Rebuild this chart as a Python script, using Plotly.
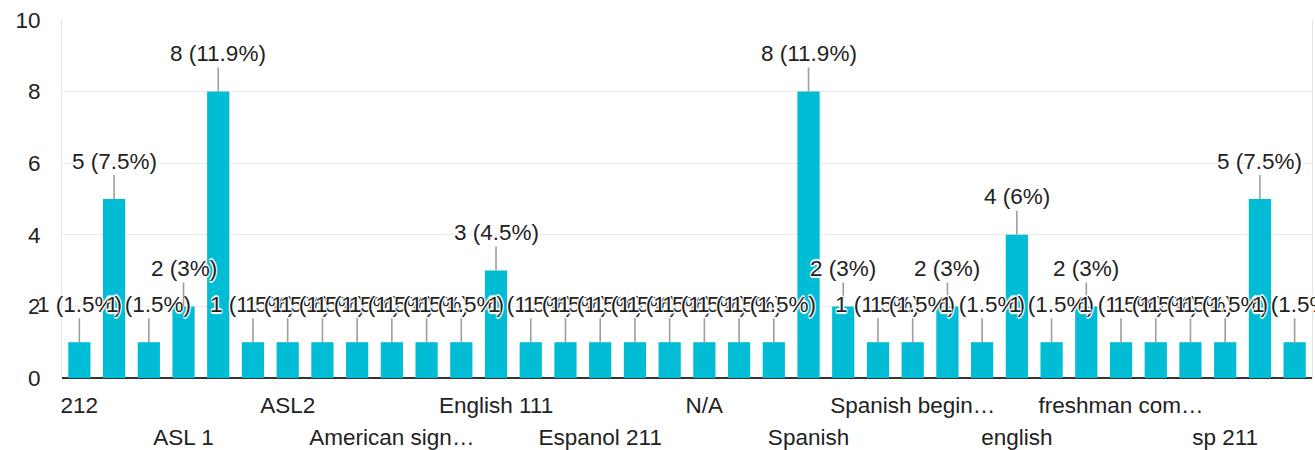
import plotly.graph_objects as go

categories = [
    "212", "ASL", "ASL 101", "ASL 1", "ASL 2", "ASL 3", "ASL2",
    "American Sign Language", "American sign lang", "American sign language",
    "Chinese", "English", "English 111", "English 112", "English 212",
    "Espanol 211", "French", "German", "N/A", "None", "SPAN 211", "Spanish",
    "Spanish 1", "Spanish 211", "Spanish beginner level", "Spanish intermediate",
    "Spanish, ASL", "english", "english 111", "english composition",
    "freshman composition", "n/a", "none", "sp 211", "spanish", "spanish 211",
]
values = [1, 5, 1, 2, 8, 1, 1, 1, 1, 1, 1, 1, 3, 1, 1, 1, 1, 1, 1, 1, 1, 8,
          2, 1, 1, 2, 1, 4, 1, 2, 1, 1, 1, 1, 5, 1]

# visible tick labels (two staggered rows)
row1_idx = [0, 6, 12, 18, 24, 30]
row1_text = ["212", "ASL2", "English 111", "N/A", "Spanish begin\u2026", "freshman com\u2026"]
row2_idx = [3, 9, 15, 21, 27, 33]
row2_text = ["ASL 1", "American sign\u2026", "Espanol 211", "Spanish", "english", "sp 211"]

y_ticks = [0, 2, 4, 6, 8, 10]

total = sum(values)

def pct(v):
    p = round(v / total * 100, 1)
    return f"{p:g}"

BAR = "#00BCD4"
TXT = "#222222"
FONT = "Liberation Sans, Arial, sans-serif"
FS = 22.5

fig = go.Figure()
fig.add_trace(go.Bar(
    x=categories, y=values, marker_color=BAR, marker_line_width=0,
    showlegend=False, hovertemplate="%{x}: %{y}<extra></extra>",
))
# helper trace for second row of x labels
fig.add_trace(go.Scatter(
    x=categories, y=[None] * len(categories), xaxis="x2", mode="markers",
    showlegend=False, hoverinfo="skip",
))

halo = ("white 1px 1px 1px, white -1px -1px 1px, white 1px -1px 1px, "
        "white -1px 1px 1px, white 0px 2px 1px, white 0px -2px 1px")
for i, v in enumerate(values):
    fig.add_annotation(
        x=i, y=v, xref="x", yref="y",
        text=f"{v} ({pct(v)}%)",
        showarrow=True, arrowhead=0, arrowwidth=1.6, arrowcolor="#9e9e9e",
        ax=0, ay=-38, standoff=0, startstandoff=0,
        font=dict(family=FONT, size=FS, color=TXT, shadow=halo),
    )

fig.update_layout(
    width=1315, height=450,
    margin=dict(l=62, r=3, t=20, b=72, autoexpand=False),
    paper_bgcolor="white", plot_bgcolor="white",
    bargap=0.36,
    font=dict(family=FONT, size=FS, color=TXT),
    xaxis=dict(
        type="category", categoryorder="array", categoryarray=categories,
        range=[-0.5, len(categories) - 0.5], automargin=False,
        tickmode="array", tickvals=[categories[i] for i in row1_idx],
        ticktext=row1_text, showgrid=False, ticks="", showline=False,
        ticklabelstandoff=11, tickfont=dict(family=FONT, size=FS, color=TXT),
    ),
    xaxis2=dict(
        type="category", categoryorder="array", categoryarray=categories,
        overlaying="x", side="bottom", matches="x", automargin=False,
        range=[-0.5, len(categories) - 0.5],
        tickmode="array", tickvals=[categories[i] for i in row2_idx],
        ticktext=row2_text, showgrid=False, ticks="", showline=False,
        ticklabelstandoff=43, tickfont=dict(family=FONT, size=FS, color=TXT),
    ),
    yaxis=dict(
        range=[0, 10], tickmode="array", tickvals=y_ticks, automargin=False,
        showgrid=True, gridcolor="#ebebeb", gridwidth=1,
        zeroline=True, zerolinecolor="#333333", zerolinewidth=2,
        showline=True, mirror=True, linecolor="#e6e6e6", linewidth=1,
        ticks="", ticklabelstandoff=16,
        tickfont=dict(family=FONT, size=FS, color=TXT),
    ),
)

fig.write_html(
    "out.html",
    config={"displayModeBar": False},
    post_script="document.body.style.margin='0';document.body.style.overflow='hidden';",
)
